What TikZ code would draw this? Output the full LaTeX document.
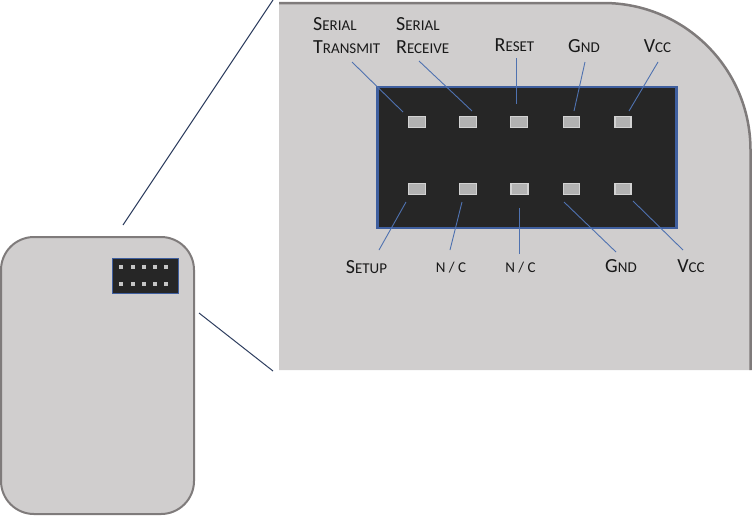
\documentclass[tikz,border=0pt]{standalone}
\usepackage{fontspec}
\setmainfont{Carlito}
\usetikzlibrary{positioning}

\definecolor{casegray}{HTML}{D0CECE}
\definecolor{edgegray}{HTML}{7F7B7B}
\definecolor{chipblack}{HTML}{262626}
\definecolor{chipblue}{HTML}{3F5F9F}
\definecolor{leadblue}{HTML}{4F72B0}
\definecolor{zoomnavy}{HTML}{2F3F60}

% first letter large, the rest set smaller
\newcommand{\capsize}[2]{{\fontsize{20}{23}\selectfont #1}{\fontsize{15}{23}\selectfont #2}}

\begin{document}
\begin{tikzpicture}[
  x=1pt, y=-1pt,
  chip/.style={draw=chipblue, fill=chipblack, line width=2.5pt, inner sep=0pt},
  pin/.style={draw=gray!35, fill=gray!60, line width=1.5pt, inner sep=0pt, minimum width=17pt, minimum height=11pt},
  dot/.style={fill=gray!45, inner sep=0pt, minimum width=4.5pt, minimum height=3.5pt},
  lbl/.style={inner sep=0pt, text=black!90, font=\fontsize{20}{23}\selectfont},
  lead/.style={draw=leadblue, line width=0.9pt},
  zoomline/.style={draw=zoomnavy, line width=1pt},
]
\useasboundingbox (0,0) rectangle (754,515);

% Enlarged corner of the case
\fill[casegray] (279,370) -- (279,3) [rounded corners=147pt] -- (750.5,3) [sharp corners] -- (750.5,370) -- cycle;
\draw[edgegray, line width=2.5pt, rounded corners=147pt] (279,3) -- (750.5,3) -- (750.5,370);

% Whole case
\node[draw=edgegray, fill=casegray, line width=2pt, rounded corners=33pt, inner sep=0pt,
      minimum width=193pt, minimum height=277pt] (case) at (97.5,375.5) {};

% Small header on the case
\node[chip, line width=1pt, minimum width=66pt, minimum height=35pt] (smallchip) at (145.5,275.5) {};
\node[dot] (st1) at (121,267) {};
\node[dot] (st2) at (133,267) {};
\node[dot] (st3) at (144,267) {};
\node[dot] (st4) at (155,267) {};
\node[dot] (st5) at (166,267) {};
\node[dot] (sb1) at (121,284) {};
\node[dot] (sb2) at (133,284) {};
\node[dot] (sb3) at (144,284) {};
\node[dot] (sb4) at (155,284) {};
\node[dot] (sb5) at (166,284) {};

% Zoom lines
\coordinate (zoomAin) at (123,225);
\coordinate (zoomAout) at (273,0);
\coordinate (zoomBin) at (199,313);
\coordinate (zoomBout) at (273,371);
\draw[zoomline] (zoomAin) -- (zoomAout);
\draw[zoomline] (zoomBin) -- (zoomBout);

% Large header
\node[chip, minimum width=299pt, minimum height=141pt] (bigchip) at (527,157.5) {};
\node[pin] (txd) at (417,122) {};
\node[pin] (rxd) at (468,122) {};
\node[pin] (rst) at (519,122) {};
\node[pin, minimum width=16pt] (gndt) at (571.5,122) {};
\node[pin, minimum width=16pt] (vcct) at (623,122) {};
\node[pin] (setup) at (417,189) {};
\node[pin] (ncl) at (468,189) {};
\node[pin] (ncr) at (519.5,189) {};
\node[pin, minimum width=16pt] (gndb) at (571.5,189) {};
\node[pin, minimum width=16pt] (vccb) at (623,189) {};

% Top labels
\node[lbl, align=left, anchor=west] (lbltxd) at (313,35.5)
  {\capsize{S}{ERIAL}\\\capsize{T}{RANSMIT}};
\node[lbl, align=left, anchor=west] (lblrxd) at (396,35.5)
  {\capsize{S}{ERIAL}\\\capsize{R}{ECEIVE}};
\node[lbl] (lblrst) at (514.5,45) {\capsize{R}{ESET}};
\node[lbl] (lblgndt) at (584,46) {\capsize{G}{ND}};
\node[lbl] (lblvcct) at (657.5,46) {\capsize{V}{CC}};

% Bottom labels
\node[lbl] (lblsetup) at (366.5,267.5) {\capsize{S}{ETUP}};
\node[lbl] (lblncl) at (451,268) {\capsize{}{N / C}};
\node[lbl] (lblncr) at (520.5,267.5) {\capsize{}{N / C}};
\node[lbl] (lblgndb) at (621,266) {\capsize{G}{ND}};
\node[lbl] (lblvccb) at (691,266) {\capsize{V}{CC}};

% Leads
\coordinate (txdend) at (352,62);
\coordinate (rxdend) at (419,61);
\coordinate (rstend) at (516,58);
\coordinate (gndtend) at (585,62);
\coordinate (vcctend) at (658,62);
\coordinate (setupend) at (379,250);
\coordinate (nclend) at (450,250);
\coordinate (ncrend) at (519,254);
\coordinate (gndbend) at (616,252);
\coordinate (vccbend) at (683,250);
\draw[lead] (txdend) -- ([shift={(-14,-10)}]txd.center);
\draw[lead] (rxdend) -- ([shift={(4,-11)}]rxd.center);
\draw[lead] (rstend) -- ([shift={(-3,-18)}]rst.center);
\draw[lead] (gndtend) -- ([shift={(2.5,-11)}]gndt.center);
\draw[lead] (vcctend) -- ([shift={(6,-11)}]vcct.center);
\draw[lead] (setupend) -- ([shift={(-11,13)}]setup.center);
\draw[lead] (nclend) -- ([shift={(-6,13)}]ncl.center);
\draw[lead] (ncrend) -- ([shift={(-0.5,19)}]ncr.center);
\draw[lead] (gndbend) -- ([shift={(-7.5,13)}]gndb.center);
\draw[lead] (vccbend) -- ([shift={(10,12)}]vccb.center);

\end{tikzpicture}
\end{document}
